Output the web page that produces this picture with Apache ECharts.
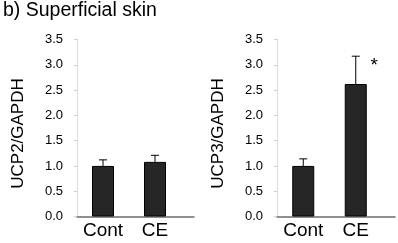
<!DOCTYPE html>
<html>
<head>
<meta charset="utf-8">
<script src="https://cdn.jsdelivr.net/npm/echarts@6/dist/echarts.min.js"></script>
<style>
  html, body { margin: 0; padding: 0; background: #fff; }
  #chart { width: 398px; height: 243px; }
</style>
</head>
<body>
<div id="chart"></div>
<script>
const categories = ['Cont', 'CE']
const ucp2Mean = [1.0, 1.08]
const ucp2Err = [0.12, 0.13]
const ucp3Mean = [1.0, 2.62]
const ucp3Err = [0.14, 0.55]
const ucp3Sig = ['', '*']
const yMin = 0, yMax = 3.5, yStep = 0.5

const font = 'Liberation Sans, Arial, sans-serif'
const chart = echarts.init(document.getElementById('chart'))

// frame grids carry the long x axis line, bar grids carry the two bands
const grids = [
  { left: 77, top: 39.5, width: 117, height: 177 },
  { left: 77, top: 39.5, width: 104, height: 177 },
  { left: 277, top: 39.5, width: 118, height: 177 },
  { left: 277, top: 39.5, width: 105, height: 177 }
]

function frameX(g) {
  return { gridIndex: g, type: 'value', min: 0, max: 1, splitLine: { show: false },
    axisLabel: { show: false }, axisTick: { show: false },
    axisLine: { onZero: false, lineStyle: { color: '#6b6b6b', width: 1.5 } } }
}
function barX(g) {
  return { gridIndex: g, type: 'category', data: categories,
    axisLine: { show: false }, axisTick: { show: false },
    axisLabel: { color: '#000', fontSize: 19, fontFamily: font, margin: 5, interval: 0, hideOverlap: false } }
}
function frameY(g) {
  return { gridIndex: g, type: 'value', min: 0, max: 1, show: false }
}
function barY(g, name) {
  return { gridIndex: g, type: 'value', min: yMin, max: yMax, interval: yStep,
    name, nameLocation: 'middle', nameGap: 50,
    nameTextStyle: { color: '#000', fontSize: 17, fontFamily: font, padding: [0, 11, 0, 0] },
    splitLine: { show: false },
    axisLine: { show: true, lineStyle: { color: '#dcdcdc' } },
    axisTick: { show: true, length: 3, lineStyle: { color: '#cfcfcf' } },
    axisLabel: { color: '#000', fontSize: 13, fontFamily: font, margin: 14, formatter: v => v.toFixed(1) } }
}

function errSeries(g, mean, err, sig) {
  return {
    type: 'custom', xAxisIndex: g, yAxisIndex: g, z: 3,
    data: mean.map((m, i) => [i, m, m + err[i]]),
    renderItem: (params, api) => {
      const lo = api.coord([api.value(0), api.value(1)])
      const hi = api.coord([api.value(0), api.value(2)])
      const s = sig ? sig[params.dataIndex] : ''
      const children = [
        { type: 'line', shape: { x1: lo[0], y1: lo[1], x2: hi[0], y2: hi[1] }, style: { stroke: '#000', lineWidth: 1 } },
        { type: 'line', shape: { x1: hi[0] - 4, y1: hi[1], x2: hi[0] + 4, y2: hi[1] }, style: { stroke: '#000', lineWidth: 1 } }
      ]
      if (s) children.push({ type: 'text', x: hi[0] + 18.5, y: hi[1] + 10,
        style: { text: s, fill: '#000', fontSize: 19, fontFamily: font, align: 'center', verticalAlign: 'middle' } })
      return { type: 'group', children }
    }
  }
}

chart.setOption({
  animation: false,
  title: { text: 'b) Superficial skin', left: 3, top: 1, padding: 0,
    textStyle: { color: '#000', fontSize: 19.5, fontWeight: 'normal', fontFamily: font } },
  grid: grids,
  xAxis: [frameX(0), barX(1), frameX(2), barX(3)],
  yAxis: [frameY(0), barY(1, 'UCP2/GAPDH'), frameY(2), barY(3, 'UCP3/GAPDH')],
  series: [
    { type: 'bar', xAxisIndex: 1, yAxisIndex: 1, data: ucp2Mean, barWidth: 22,
      itemStyle: { color: '#262626', borderColor: '#000', borderWidth: 1 } },
    errSeries(1, ucp2Mean, ucp2Err, null),
    { type: 'bar', xAxisIndex: 3, yAxisIndex: 3, data: ucp3Mean, barWidth: 22,
      itemStyle: { color: '#262626', borderColor: '#000', borderWidth: 1 } },
    errSeries(3, ucp3Mean, ucp3Err, ucp3Sig)
  ]
})
</script>
</body>
</html>
